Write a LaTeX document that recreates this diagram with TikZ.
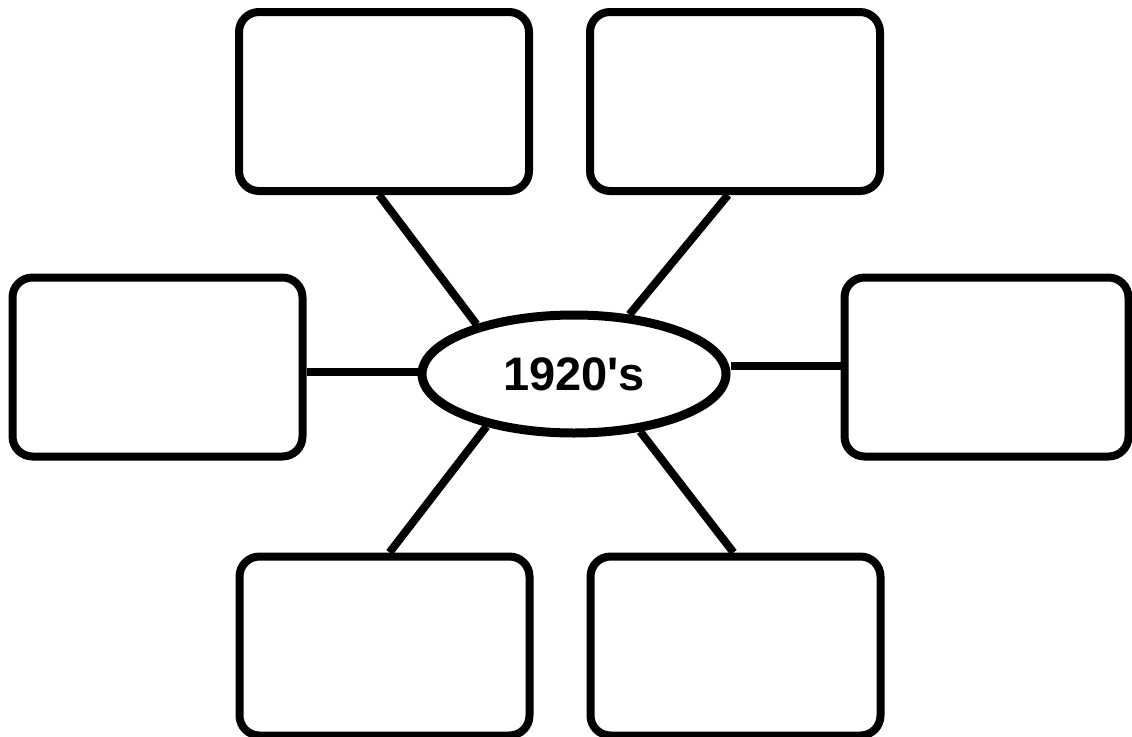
\documentclass[tikz,border=0pt]{standalone}
\usepackage{fontspec}
\setmainfont{Liberation Sans}
\usetikzlibrary{shapes.geometric,backgrounds}

\begin{document}
\begin{tikzpicture}[x=1pt,y=-1pt,
    topicbox/.style={draw=black,line width=8pt,rounded corners=20pt,
        minimum width=290pt,minimum height=179pt,inner sep=0pt},
    hubnode/.style={ellipse,draw=black,line width=9pt,fill=white,
        minimum width=304pt,minimum height=118pt,inner sep=0pt,
        font=\fontsize{47}{50}\selectfont\bfseries},
    spoke/.style={line width=8pt}]
    \useasboundingbox (0,0) rectangle (1132,736);

    % central topic
    \node[hubnode] (hub) at (574,374) {1920\textquotesingle s};

    % surrounding boxes
    \node[topicbox] (tl) at (384,101.5) {};
    \node[topicbox] (tr) at (735,101.5) {};
    \node[topicbox] (lf) at (157.5,367) {};
    \node[topicbox,minimum width=284pt] (rt) at (986.5,367) {};
    \node[topicbox] (bl) at (384.5,646) {};
    \node[topicbox] (br) at (735.5,646) {};

    % spokes
    \begin{scope}[on background layer]
    \draw[spoke] ([xshift=-5pt]tl.south) -- (hub.153);
    \draw[spoke] ([xshift=-7pt]tr.south) -- (hub.47);
    \draw[spoke] ([xshift=5pt]bl.north) -- (hub.211);
    \draw[spoke] ([xshift=-2pt]br.north) -- (hub.319);
    \draw[spoke] ([yshift=-5pt]lf.east) -- ([yshift=-5pt]lf.east -| hub.west);
    \draw[spoke] ([yshift=1pt]rt.west) -- ([yshift=1pt]rt.west -| hub.east);
    \end{scope}
\end{tikzpicture}
\end{document}
